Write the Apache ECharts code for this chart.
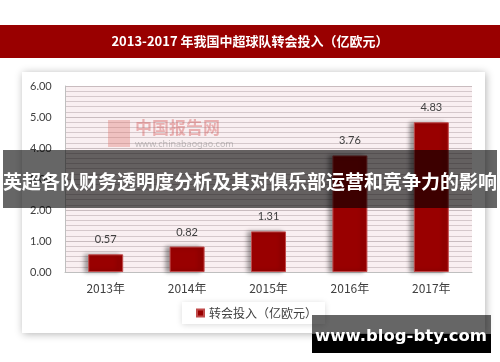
<!DOCTYPE html>
<html><head><meta charset="utf-8">
<script src="https://cdn.jsdelivr.net/npm/echarts@6/dist/echarts.min.js"></script>
<style>html,body{margin:0;padding:0;background:#fff;}#c{width:500px;height:362px;}</style>
</head><body><div id="c"></div>
<script>
var categories = ['2013年','2014年','2015年','2016年','2017年'];
var values = [0.57, 0.82, 1.31, 3.76, 4.83];
var seriesName = '转会投入（亿欧元）';
var chartTitle = '2013-2017 年我国中超球队转会投入（亿欧元）';
var bannerText = '英超各队财务透明度分析及其对俱乐部运营和竞争力的影响';
var siteText = 'www.blog-bty.com';
var yMin = 0, yMax = 6, yStep = 1;

var cjk = '"Noto Sans CJK SC", "Noto Sans", sans-serif';
var chart = echarts.init(document.getElementById('c'), null, {renderer:'canvas'});
chart.setOption({
  animation: false,
  backgroundColor: '#fff',
  grid: {left: 65, right: 28, top: 86, bottom: 90, show: true, backgroundColor: '#f9eff1', borderWidth: 0},
  xAxis: {
    type: 'category', data: categories,
    axisLine: {show: true, lineStyle: {color: '#bfbfbf', width: 1}},
    axisTick: {show: false},
    axisLabel: {color: '#404040', fontSize: 12, fontFamily: cjk, margin: 10}
  },
  yAxis: {
    type: 'value', min: yMin, max: yMax, interval: yStep,
    axisLine: {show: true, lineStyle: {color: '#bfbfbf'}},
    axisTick: {show: false},
    axisLabel: {color: '#404040', fontSize: 11, fontFamily: 'Lato, "Noto Sans", sans-serif', margin: 35, align: 'left',
      formatter: function(v){return v.toFixed(2);}},
    splitLine: {show: true, lineStyle: {color: '#c9bcbf', width: 1}},
    minorTick: {show: false, splitNumber: 6},
    minorSplitLine: {show: true, lineStyle: {color: '#d5c8cb', width: 1}}
  },
  legend: {
    left: 182, top: 302, data: [seriesName], icon: 'rect', itemWidth: 7, itemHeight: 7, itemGap: 4,
    padding: [5, 8, 5, 14], backgroundColor: '#fff', shadowBlur: 6, shadowColor: 'rgba(0,0,0,0.15)', shadowOffsetY: 1,
    textStyle: {color: '#404040', fontSize: 12, fontFamily: cjk}
  },
  series: [{
    name: seriesName, type: 'bar', data: values, barWidth: 35,
    itemStyle: {color: '#990000', borderColor: '#c04a4a', borderWidth: 1,
      shadowBlur: 4, shadowOffsetX: -4, shadowColor: 'rgba(0,0,0,0.35)'},
    label: {show: true, position: 'top', distance: 9, color: '#404040', fontSize: 11, fontFamily: 'Lato, "Noto Sans", sans-serif',
      formatter: function(p){return p.value.toFixed(2);}}
  }],
  graphic: [
    {type: 'rect', z: -10, shape: {x: 22, y: 72, width: 463, height: 261},
      style: {fill: '#fff', shadowBlur: 8, shadowColor: 'rgba(0,0,0,0.3)', shadowOffsetX: 1, shadowOffsetY: 1}},
    {type: 'rect', z: 10, shape: {x: 0, y: 25, width: 500, height: 33}, style: {fill: '#990000'}},
    {type: 'text', z: 11, x: 250, y: 41, style: {text: chartTitle, fill: '#fff', font: 'bold 13px ' + cjk, align: 'center', verticalAlign: 'middle'}},
    {type: 'rect', z: 5, shape: {x: 108, y: 120, width: 22, height: 27}, style: {fill: 'rgba(220,110,100,0.35)'}},
    {type: 'text', z: 5, x: 135, y: 128, style: {text: '中国报告网', fill: 'rgba(210,80,80,0.4)', font: 'bold 17px ' + cjk, verticalAlign: 'middle'}},
    {type: 'text', z: 5, x: 135, y: 144, style: {text: 'www.chinabaogao.com', fill: 'rgba(120,120,120,0.45)', font: '9px "Noto Sans", sans-serif', verticalAlign: 'middle'}},
    {type: 'rect', z: 100, shape: {x: 3, y: 150, width: 494, height: 58}, style: {fill: 'rgba(0,0,0,0.6)'}},
    {type: 'text', z: 101, x: 250, y: 182, style: {text: bannerText, fill: '#fff', font: 'bold 19px ' + cjk, align: 'center', verticalAlign: 'middle'}},
    {type: 'rect', z: 100, shape: {x: 312, y: 315, width: 179, height: 19}, style: {fill: 'rgba(0,0,0,0.6)'}},
    {type: 'rect', z: 100, shape: {x: 312, y: 334, width: 179, height: 19}, style: {fill: '#000'}},
    {type: 'text', z: 101, x: 401, y: 337, style: {text: siteText, fill: '#fff', font: 'bold 16.5px "DejaVu Sans", sans-serif', align: 'center', verticalAlign: 'middle'}}
  ]
});
</script></body></html>
